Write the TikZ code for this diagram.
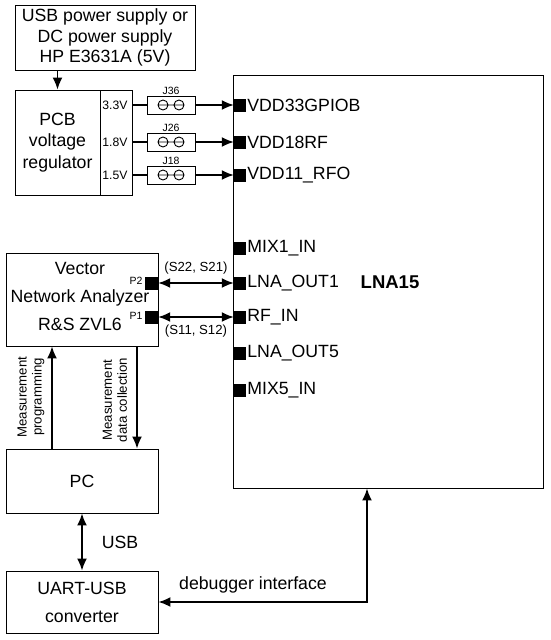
\documentclass[tikz,border=0pt]{standalone}
\usepackage{fontspec}
\setmainfont{Liberation Sans}
\usetikzlibrary{arrows.meta}
\newcommand{\mainfs}{\fontsize{17.7}{20.5}\selectfont}
\newcommand{\midfs}{\fontsize{13.2}{15}\selectfont}
\newcommand{\voltfs}{\fontsize{12.2}{14}\selectfont}
\newcommand{\tagfs}{\fontsize{10.5}{12}\selectfont}

\begin{document}
\begin{tikzpicture}[x=1pt,y=-1pt,
    box/.style={draw,line width=0.9pt,inner sep=0pt},
    wire/.style={line width=1.8pt,-{Latex[length=12pt,width=10pt]}},
    wiretwo/.style={line width=1.8pt,{Latex[length=12pt,width=10pt]}-{Latex[length=12pt,width=10pt]}},
    pinsq/.style={fill=black,inner sep=0pt,minimum width=12pt,minimum height=13pt}]
  \useasboundingbox (0,0) rectangle (550,640);

  \node[box,minimum width=180pt,minimum height=65pt] (supply) at (105,37.5) {};
  \node[align=center,font=\mainfs] at (supply) {USB power supply or\\DC power supply\\HP E3631A (5V)};
  \node[box,minimum width=85pt,minimum height=105pt] (reg) at (57.5,142.5) {};
  \node[align=center,font={\fontsize{17.7}{21.5}\selectfont}] at (reg) {PCB\\voltage\\regulator};
  \node[box,minimum width=32pt,minimum height=105pt] (outs) at (116,142.5) {};
  \draw[wire] (supply.south -| reg.north) -- (reg.north);

  \node[box,minimum width=310pt,minimum height=413pt] (lna) at (388,281.5) {};
  \node[font={\bfseries\fontsize{18.5}{20}\selectfont}] at (390,282) {LNA15};
  \foreach \n/\y/\t in {1/105/VDD33GPIOB,2/142/VDD18RF,3/175/VDD11\_RFO,4/248/MIX1\_IN,
      5/283/LNA\_OUT1,6/317/RF\_IN,7/353/LNA\_OUT5,8/390/MIX5\_IN} {
    \node[pinsq] (pin\n) at (240,\y) {};
    \node[anchor=west,font=\mainfs,inner sep=1pt] at (pin\n.east) {\t};
  }

  \foreach \n/\y/\v/\j in {1/105/3.3V/36,2/142/1.8V/26,3/175/1.5V/18} {
    \node[box,minimum width=48pt,minimum height=18pt] (jmp\n) at (171,\y) {};
    \node[anchor=south,font=\tagfs,inner sep=1pt] at (jmp\n.north) {J\j};
    \draw[line width=0.9pt] ([xshift=-8pt]jmp\n.center) circle (5pt)
      ([xshift=8pt]jmp\n.center) circle (5pt)
      ([xshift=-13pt]jmp\n.center) -- ([xshift=13pt]jmp\n.center);
    \node[font=\voltfs] (volt\n) at (115,\y) {\v};
    \draw[line width=1.8pt] (outs.east |- jmp\n) -- (jmp\n);
    \draw[wire] (jmp\n) -- (pin\n);
  }

  \node[box,minimum width=152pt,minimum height=93pt] (vna) at (82,299.5) {};
  \node[align=center,font={\fontsize{17.7}{28}\selectfont}] at (80,296) {Vector\\Network Analyzer\\R\&S ZVL6};
  \node[pinsq,minimum width=13pt] (port2) at (151.5,283) {};
  \node[pinsq,minimum width=13pt] (port1) at (151.5,317) {};
  \node[font=\tagfs,inner sep=0pt] at (136,281) {P2};
  \node[font=\tagfs,inner sep=0pt] at (136,316) {P1};
  \draw[wiretwo] (port2) -- (pin5);
  \draw[wiretwo] (port1) -- (pin6);
  \node[font=\midfs] at (196,268) {(S22, S21)};
  \node[font=\midfs] at (196,331) {(S11, S12)};

  \node[box,minimum width=152pt,minimum height=64pt,font=\mainfs] (pc) at (82,481) {PC};
  \node[box,minimum width=152pt,minimum height=62pt,align=center,font={\fontsize{17.7}{28}\selectfont}] (uart) at (82,602) {UART-USB\\converter};

  \draw[wire] ([xshift=-30pt]pc.north) -- ([xshift=-30pt]vna.south);
  \draw[wire] ([xshift=55pt]vna.south) -- ([xshift=55pt]pc.north);
  \node[rotate=90,align=center,font=\midfs] at (31,397) {Measurement\\programming};
  \node[rotate=90,align=center,font=\midfs] at (115,400) {Measurement\\data collection};

  \draw[wiretwo] (pc) -- (uart);
  \node[font=\mainfs] at (120,542) {USB};

  \coordinate (dbg) at ([xshift=-21pt]lna.south);
  \draw[wiretwo] (uart.east) -| (dbg);
  \node[font=\mainfs] at (253,585) {debugger interface};
\end{tikzpicture}
\end{document}
